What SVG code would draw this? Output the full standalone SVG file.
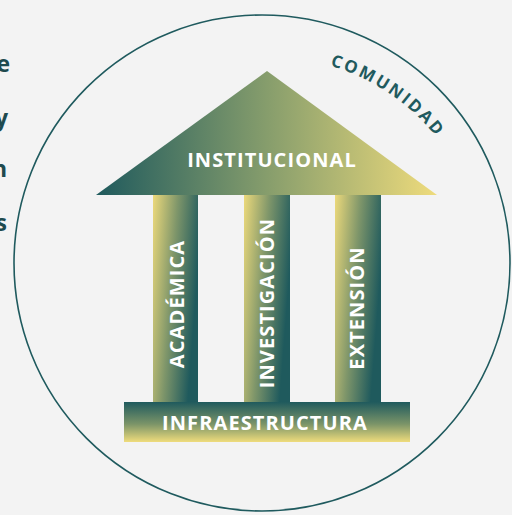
<svg xmlns="http://www.w3.org/2000/svg" width="512" height="515" viewBox="0 0 512 515">
<defs>
<linearGradient id="roofG" x1="96" y1="0" x2="437" y2="0" gradientUnits="userSpaceOnUse">
<stop offset="0" stop-color="#1f5a5d"/>
<stop offset="0.5" stop-color="#869d6c"/>
<stop offset="1" stop-color="#eedb7c"/>
</linearGradient>
<linearGradient id="colG" x1="0" y1="0" x2="1" y2="0.35">
<stop offset="0" stop-color="#ecd97b"/>
<stop offset="0.5" stop-color="#7f966a"/>
<stop offset="1" stop-color="#1f5a5d"/>
</linearGradient>
<linearGradient id="baseG" x1="0" y1="0" x2="0" y2="1">
<stop offset="0" stop-color="#1f5a5d"/>
<stop offset="0.55" stop-color="#7b9468"/>
<stop offset="1" stop-color="#efdc7c"/>
</linearGradient>
<path id="arc" d="M285.1,57.5 A213,213 0 0 1 461.4,176.6"/>
<style>
.lbl{font-family:"Open Sans","Noto Sans",sans-serif;font-weight:700;fill:#ffffff;letter-spacing:1.1px}
.side{font-family:"Open Sans","Noto Sans",sans-serif;font-weight:700;fill:#1e4a4e;font-size:23px}
</style>
</defs>
<rect width="512" height="515" fill="#f3f3f3"/>
<g id="side-text">
<text class="side" x="10" y="72" text-anchor="end">e</text>
<text class="side" x="8" y="126" text-anchor="end">y</text>
<text class="side" x="7" y="177" text-anchor="end">n</text>
<text class="side" x="7" y="231" text-anchor="end">s</text>
</g>
<g id="comunidad">
<circle cx="262" cy="263" r="248" fill="none" stroke="#1f5a5e" stroke-width="1.6"/>
<text font-family="Open Sans, Noto Sans, sans-serif" font-weight="700" font-size="17" fill="#1f5a5e" letter-spacing="2.4"><textPath href="#arc" startOffset="50%" text-anchor="middle">COMUNIDAD</textPath></text>
</g>
<g id="institucional">
<polygon points="267,71 96,195 437,195" fill="url(#roofG)"/>
<text class="lbl" x="272" y="167" font-size="20" text-anchor="middle">INSTITUCIONAL</text>
</g>
<g id="academica">
<rect x="153" y="195" width="45" height="207" fill="url(#colG)"/>
<text class="lbl" transform="translate(184,304) rotate(-90)" font-size="20" text-anchor="middle">ACADÉMICA</text>
</g>
<g id="investigacion">
<rect x="244" y="195" width="46" height="207" fill="url(#colG)"/>
<text class="lbl" transform="translate(274,303) rotate(-90)" font-size="20" text-anchor="middle">INVESTIGACIÓN</text>
</g>
<g id="extension">
<rect x="335" y="195" width="46" height="207" fill="url(#colG)"/>
<text class="lbl" transform="translate(364,308) rotate(-90)" font-size="20" text-anchor="middle">EXTENSIÓN</text>
</g>
<g id="infraestructura">
<rect x="124" y="402" width="286" height="40" fill="url(#baseG)"/>
<text class="lbl" x="265" y="430" font-size="20" text-anchor="middle">INFRAESTRUCTURA</text>
</g>
<g id="connectors"/>
</svg>
